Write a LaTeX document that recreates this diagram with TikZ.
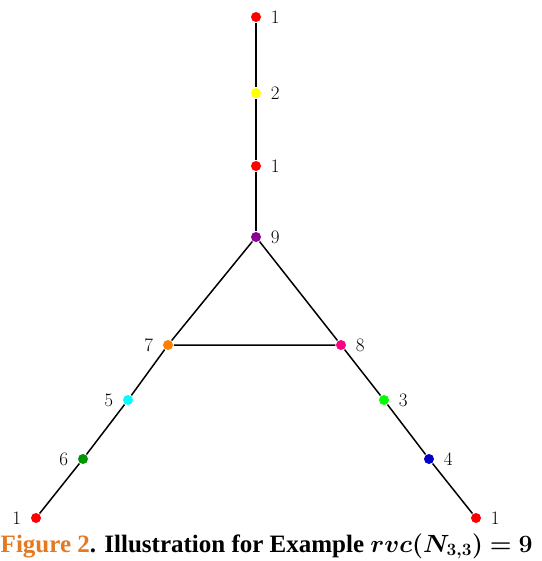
\documentclass[tikz,border=0pt]{standalone}
\usepackage{bm}
\usepackage{fontspec}
\newfontfamily\capfont{Liberation Serif}
\definecolor{caporange}{RGB}{230,120,30}
\definecolor{vpurple}{RGB}{140,0,150}
\definecolor{vpink}{RGB}{255,0,128}
\definecolor{vgreen}{RGB}{0,150,0}
\definecolor{vlime}{RGB}{0,255,0}
\definecolor{vcyan}{RGB}{0,255,255}
\definecolor{vblue}{RGB}{0,0,200}
\definecolor{vorange}{RGB}{255,128,0}
\definecolor{vyellow}{RGB}{255,255,0}
\tikzset{
  vtx/.style={circle, fill=#1, inner sep=0pt, minimum size=10pt},
  lbl/.style={font=\fontsize{19}{19}\selectfont, label distance=5pt},
}
\begin{document}
\begin{tikzpicture}[x=1pt, y=-1pt, line width=1.5pt]
    \useasboundingbox (0,0) rectangle (541,561);
    % Top path
    \node[vtx=red, label={[lbl]right:1}] (t1) at (256,17) {};
    \node[vtx=vyellow, label={[lbl]right:2}] (t2) at (256,93) {};
    \node[vtx=red, label={[lbl]right:1}] (t3) at (256,166) {};
    \node[vtx=vpurple, label={[lbl]right:9}] (c9) at (256,237) {};

    % Triangle corners
    \node[vtx=vorange, label={[lbl]left:7}] (c7) at (168,345) {};
    \node[vtx=vpink, label={[lbl]right:8}] (c8) at (341,345) {};

    % Left path
    \node[vtx=vcyan, label={[lbl]left:5}] (l5) at (128,400) {};
    \node[vtx=vgreen, label={[lbl]left:6}] (l6) at (83,459) {};
    \node[vtx=red, label={[lbl]left:1}] (l1) at (36,518) {};

    % Right path
    \node[vtx=vlime, label={[lbl]right:3}] (r3) at (384,400) {};
    \node[vtx=vblue, label={[lbl]right:4}] (r4) at (429,459) {};
    \node[vtx=red, label={[lbl]right:1}] (r1) at (476,518) {};

    % Edges
    \draw (t1) -- (t2) -- (t3) -- (c9);
    \draw (c9) -- (c7) -- (c8) -- (c9);
    \draw (c7) -- (l5) -- (l6) -- (l1);
    \draw (c8) -- (r3) -- (r4) -- (r1);

    % Caption
    \node[anchor=base west, inner sep=0pt, font=\capfont\bfseries\fontsize{25}{25}\selectfont] (cap) at (0,552)
      {\textcolor{caporange}{Figure 2}. Illustration for Example $\bm{rvc\bigl(N_{3,3}\bigr) = 9}$};
\end{tikzpicture}
\end{document}
